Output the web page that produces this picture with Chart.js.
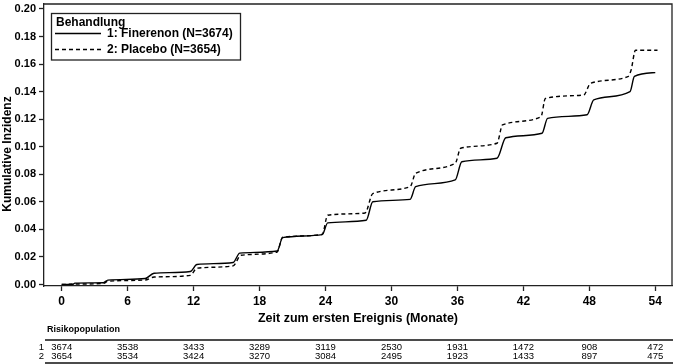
<!DOCTYPE html>
<html>
<head>
<meta charset="utf-8">
<script src="https://cdn.jsdelivr.net/npm/chart.js@4.4.0/dist/chart.umd.min.js"></script>
<style>
  html, body { margin: 0; padding: 0; background: #fff; }
  #wrap { width: 673px; height: 364px; position: relative; }
</style>
</head>
<body>
<div id="wrap"><canvas id="km"></canvas></div>
<script>
// Kumulative Inzidenz (Monate / Wert)
const finMonate = [0, 1.0, 1.2, 3.8, 4.2, 7.6, 8.4, 11.7, 12.3, 15.6, 16.2, 19.6, 20.1, 23.7, 24.2, 27.7, 28.3, 31.7, 32.2, 35.8, 36.4, 39.6, 40.4, 43.7, 44.2, 47.8, 48.4, 51.7, 52.1, 54.0];
const finWerte = [0, 0, 0.0010, 0.0013, 0.0032, 0.0043, 0.0082, 0.0094, 0.0145, 0.0160, 0.0228, 0.0243, 0.0340, 0.0362, 0.0447, 0.0466, 0.0601, 0.0618, 0.0710, 0.0759, 0.0891, 0.0916, 0.1065, 0.1098, 0.1206, 0.1232, 0.1340, 0.1400, 0.1510, 0.1538];

const plaMonate = [0, 1.0, 3.8, 4.2, 7.6, 8.4, 11.7, 12.3, 15.6, 16.3, 19.6, 20.1, 23.7, 24.2, 27.6, 28.3, 31.7, 32.2, 35.8, 36.3, 39.6, 40.1, 43.6, 44.0, 47.5, 48.1, 51.5, 51.8, 52.2, 54.2];
const plaWerte = [0, 0.0003, 0.0008, 0.0023, 0.0033, 0.0054, 0.0066, 0.0118, 0.0135, 0.0212, 0.0236, 0.0343, 0.0364, 0.0503, 0.0519, 0.0660, 0.0710, 0.0807, 0.0880, 0.0989, 0.1025, 0.1158, 0.1218, 0.1350, 0.1376, 0.1460, 0.1509, 0.1557, 0.1700, 0.1700];

const xTicks = [0, 6, 12, 18, 24, 30, 36, 42, 48, 54];
const yTicks = [0, 0.02, 0.04, 0.06, 0.08, 0.10, 0.12, 0.14, 0.16, 0.18, 0.20];

// Risikopopulation an den x-Ticks
const risikoFin = [3674, 3538, 3433, 3289, 3119, 2530, 1931, 1472, 908, 472];
const risikoPla = [3654, 3534, 3424, 3270, 3084, 2495, 1923, 1433, 897, 475];

const legendeTitel = 'Behandlung';
const FONT = '"Liberation Sans", Arial, sans-serif';

const punkte = (m, w) => m.map((x, i) => ({ x: x, y: w[i] }));

const extras = {
    id: 'extras',
    afterDraw(chart) {
        const ctx = chart.ctx;
        const a = chart.chartArea;
        const xs = chart.scales.x;
        ctx.save();

        // Rahmen oben und rechts
        ctx.strokeStyle = '#222';
        ctx.lineWidth = 1.3;
        ctx.beginPath();
        ctx.moveTo(a.left, a.top);
        ctx.lineTo(a.right, a.top);
        ctx.lineTo(a.right, a.bottom);
        ctx.stroke();

        // Legende
        ctx.strokeRect(51.5, 13.5, 189, 46.5);
        ctx.fillStyle = '#000';
        ctx.textAlign = 'left';
        ctx.textBaseline = 'middle';
        ctx.font = 'bold 12px ' + FONT;
        ctx.fillText(legendeTitel, 56, 22.5);
        chart.data.datasets.forEach((ds, i) => {
            const y = 33.5 + i * 16;
            ctx.setLineDash(ds.borderDash || []);
            ctx.lineWidth = ds.borderWidth;
            ctx.strokeStyle = ds.borderColor;
            ctx.beginPath();
            ctx.moveTo(55, y);
            ctx.lineTo(101, y);
            ctx.stroke();
            ctx.setLineDash([]);
            ctx.fillText(ds.label, 107, y + 0.5);
        });

        // y-Achsentitel
        ctx.save();
        ctx.translate(8, 154);
        ctx.rotate(-Math.PI / 2);
        ctx.textAlign = 'center';
        ctx.font = 'bold 12px ' + FONT;
        ctx.fillText('Kumulative Inzidenz', 0, 0);
        ctx.restore();

        // Risikotabelle
        ctx.font = 'bold 9px ' + FONT;
        ctx.textAlign = 'left';
        ctx.fillText('Risikopopulation', 47, 330);
        ctx.strokeStyle = '#111';
        ctx.lineWidth = 1.5;
        ctx.beginPath();
        ctx.moveTo(45, 340);
        ctx.lineTo(673, 340);
        ctx.moveTo(45, 363);
        ctx.lineTo(673, 363);
        ctx.stroke();
        ctx.font = '9.5px ' + FONT;
        ctx.textAlign = 'right';
        ctx.fillText('1', 44, 347.5);
        ctx.fillText('2', 44, 356.5);
        ctx.textAlign = 'center';
        xTicks.forEach((t, i) => {
            const px = xs.getPixelForValue(t);
            ctx.fillText(String(risikoFin[i]), px, 347.5);
            ctx.fillText(String(risikoPla[i]), px, 356.5);
        });
        ctx.restore();
    }
};

new Chart(document.getElementById('km').getContext('2d'), {
    type: 'line',
    data: {
        datasets: [
            {
                label: '1: Finerenon (N=3674)',
                data: punkte(finMonate, finWerte),
                borderColor: '#000',
                borderWidth: 1.4,
                pointRadius: 0,
                cubicInterpolationMode: 'monotone',
                fill: false,
            },
            {
                label: '2: Placebo (N=3654)',
                data: punkte(plaMonate, plaWerte),
                borderColor: '#000',
                borderWidth: 1.4,
                borderDash: [4, 3],
                pointRadius: 0,
                cubicInterpolationMode: 'monotone',
                fill: false,
            },
        ],
    },
    options: {
        responsive: true,
        maintainAspectRatio: false,
        animation: false,
        events: [],
        layout: { padding: { top: 4, right: 1, left: 0, bottom: 0 } },
        plugins: {
            legend: { display: false },
            tooltip: { enabled: false },
        },
        scales: {
            x: {
                type: 'linear',
                min: -1.61,
                max: 55.52,
                afterBuildTicks: (s) => { s.ticks = xTicks.map((v) => ({ value: v })); },
                afterFit: (s) => { s.height = 78; s.paddingLeft = 0; s.paddingRight = 0; },
                grid: { drawOnChartArea: false, tickLength: 5, color: '#222', tickWidth: 1.3 },
                border: { color: '#222', width: 1.3 },
                ticks: {
                    padding: 3,
                    color: '#000',
                    autoSkip: false,
                    maxRotation: 0,
                    font: { family: FONT, size: 12, weight: 'bold' },
                    callback: (v) => String(v),
                },
                title: {
                    display: true,
                    text: 'Zeit zum ersten Ereignis (Monate)',
                    color: '#000',
                    font: { family: FONT, size: 12.5, weight: 'bold' },
                    padding: { top: 0, bottom: 38 },
                },
            },
            y: {
                min: -0.0011,
                max: 0.2036,
                afterBuildTicks: (s) => { s.ticks = yTicks.map((v) => ({ value: v })); },
                afterFit: (s) => { s.width = 44; s.paddingTop = 0; s.paddingBottom = 0; },
                grid: { drawOnChartArea: false, tickLength: 5, color: '#222', tickWidth: 1.3 },
                border: { color: '#222', width: 1.3 },
                ticks: {
                    padding: 3,
                    color: '#000',
                    font: { family: FONT, size: 11, weight: 'bold' },
                    callback: (v) => v.toFixed(2),
                },
            },
        },
    },
    plugins: [extras],
});
</script>
</body>
</html>
